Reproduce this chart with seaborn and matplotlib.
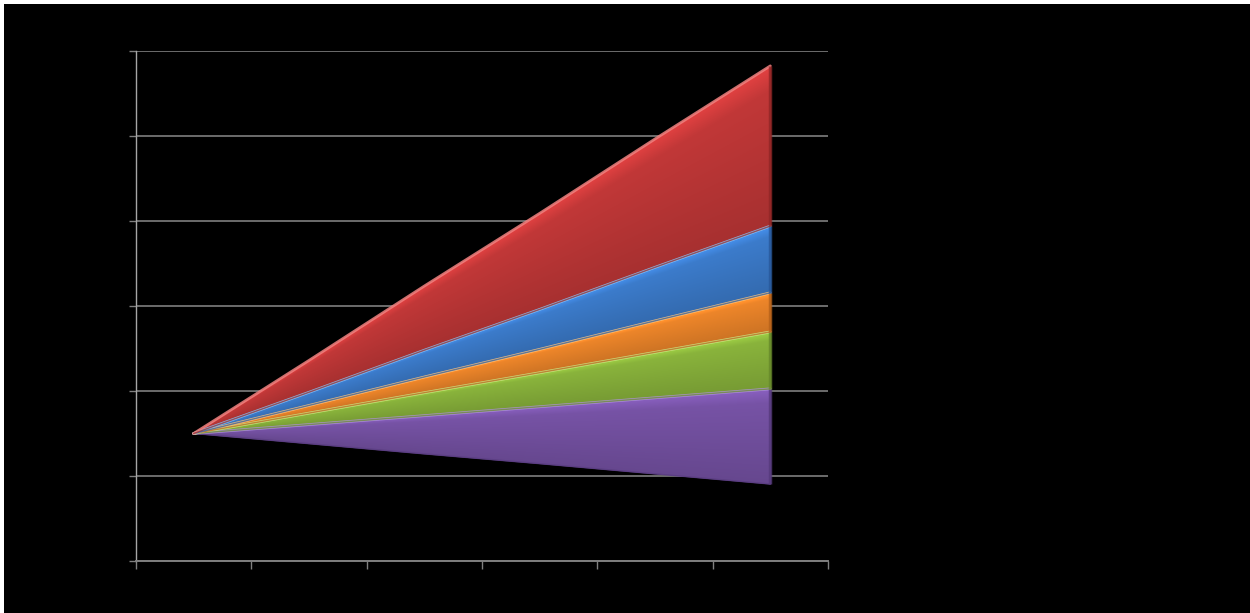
import numpy as np
import pandas as pd
import matplotlib
matplotlib.use("Agg")
import matplotlib.pyplot as plt
import matplotlib.patches as mpatches
from matplotlib.colors import to_rgb
import seaborn as sns

# Periods along the horizontal axis
periods = [0, 1, 2, 3, 4, 5]

# Invisible floor under the fan, then the stacked bands (bottom to top)
base = [3.00, 2.76, 2.52, 2.29, 2.05, 1.81]
band_purple = [0.00, 0.45, 0.90, 1.34, 1.79, 2.24]
band_green = [0.00, 0.27, 0.54, 0.80, 1.07, 1.34]
band_orange = [0.00, 0.18, 0.37, 0.55, 0.74, 0.92]
band_blue = [0.00, 0.31, 0.63, 0.94, 1.26, 1.57]
band_red = [0.00, 0.75, 1.51, 2.26, 3.02, 3.77]

y_ticks = [0, 2, 4, 6, 8, 10, 12]

bands = [
    ("purple", band_purple, "#7753a6", "#b294e0", "#563a7c"),
    ("green", band_green, "#8ab43c", "#cdeb86", "#66882a"),
    ("orange", band_orange, "#ee862a", "#ffc680", "#b5611a"),
    ("blue", band_blue, "#3c7ccc", "#8cc6f8", "#28589a"),
    ("red", band_red, "#c23838", "#f08280", "#902626"),
]

sns.set_theme(style="dark", rc={
    "axes.facecolor": "black",
    "figure.facecolor": "white",
    "axes.grid": False,
})

fig = plt.figure(figsize=(12.5, 6.13), dpi=100)
W, H = 1250, 613
# black slide area inside a thin white margin on the top and left
fig.patches.append(mpatches.Rectangle((4 / W, 0), 1 - 4 / W, 1 - 4 / H,
                                      transform=fig.transFigure,
                                      facecolor="black", edgecolor="none",
                                      zorder=-5))

ax = fig.add_axes([136 / W, 1 - 561 / H, (828 - 136) / W, (561 - 51) / H])
ax.set_zorder(1)
ax.set_facecolor("black")

x = np.array(periods, dtype=float)
gx = np.linspace(x[0], x[-1], 700)
gy = np.linspace(0, 12, 700)
GX, GY = np.meshgrid(gx, gy)

lower = np.array(base, dtype=float)
for name, vals, face, light, dark in bands:
    upper = lower + np.array(vals, dtype=float)
    poly = ax.fill_between(x, lower, upper, color=face, linewidth=0, zorder=3)

    # shaded fill: darker toward the lower edge, brighter toward the top rim
    lo = np.interp(GX, x, lower)
    hi = np.interp(GX, x, upper)
    span = np.maximum(hi - lo, 1e-6)
    frac = np.clip((GY - lo) / span, 0, 1)
    shade = 0.86 + 0.16 * frac + 0.14 * np.clip((frac - 0.85) / 0.15, 0, 1)
    rgb = np.clip(np.array(to_rgb(face))[None, None, :] * shade[..., None], 0, 1)
    img = ax.imshow(rgb, extent=(gx[0], gx[-1], gy[0], gy[-1]), origin="lower",
                    aspect="auto", interpolation="bilinear", zorder=3.5)
    img.set_clip_path(poly.get_paths()[0], transform=ax.transData)

    # bevel: bright rim on the top edge, shaded rim on the lower edge
    edges = pd.DataFrame({"x": x, "top": upper, "bottom": lower})
    sns.lineplot(data=edges, x="x", y="top", ax=ax, color=light,
                 linewidth=2.0, alpha=0.85, zorder=4)
    sns.lineplot(data=edges, x="x", y="bottom", ax=ax, color=dark,
                 linewidth=1.0, alpha=0.7, zorder=4)
    ax.plot([x[-1], x[-1]], [lower[-1], upper[-1]], color=dark,
            linewidth=2.5, alpha=0.8, zorder=4, solid_capstyle="butt")
    lower = upper

ax.set_xlim(-0.5, 5.5)
ax.set_ylim(0, 12)
ax.set_yticks(y_ticks)
ax.set_xticks(np.arange(-0.5, 6.0, 1.0))
ax.set_yticklabels([])
ax.set_xticklabels([])
ax.set_xlabel("")
ax.set_ylabel("")

for yv in y_ticks:
    ax.axhline(yv, color="#7f7f7f", linewidth=1.2, zorder=1)

for side in ("top", "right"):
    ax.spines[side].set_visible(False)
ax.spines["left"].set_color("#a6a6a6")
ax.spines["left"].set_linewidth(1.0)
ax.spines["bottom"].set_color("#7f7f7f")
ax.spines["bottom"].set_linewidth(1.4)

ax.tick_params(axis="y", direction="out", length=5, width=1.0,
               color="#7f7f7f", left=True)
ax.tick_params(axis="x", direction="out", length=6, width=1.0,
               color="#7f7f7f", bottom=True)

fig.savefig("out.png", dpi=100, facecolor=fig.get_facecolor())
